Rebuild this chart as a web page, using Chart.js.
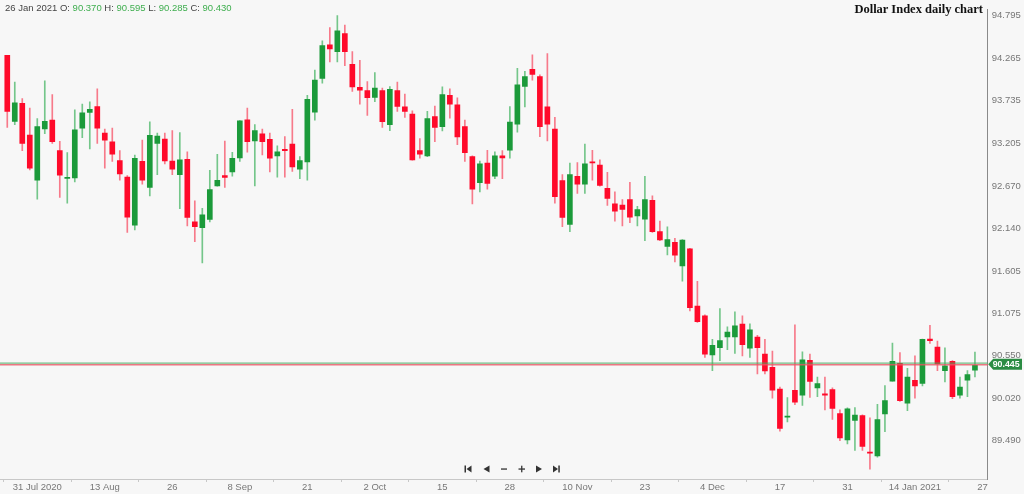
<!DOCTYPE html>
<html><head><meta charset="utf-8">
<script src="https://cdn.jsdelivr.net/npm/chart.js@4"></script>
<style>
html,body{margin:0;padding:0;background:#f7f7f7;}
#wrap{position:relative;width:1024px;height:494px;background:#f7f7f7;}
canvas{display:block;}
#hdr{position:absolute;left:5px;top:2px;font:9.5px "Liberation Sans",Arial,sans-serif;color:#444;white-space:nowrap;}
#hdr .v{color:#3fae4f;}
#ttl{position:absolute;right:41px;top:2px;font:bold 12.5px "Liberation Serif","Times New Roman",serif;color:#111;white-space:nowrap;}
</style></head>
<body><div id="wrap"><canvas id="c" width="1024" height="494"></canvas>
<div id="hdr"></div>
<div id="ttl">Dollar Index daily chart</div></div>
<script>
// trading days (last one has no candle yet)
const dates = [
"2020-07-27","2020-07-28","2020-07-29","2020-07-30","2020-07-31",
"2020-08-03","2020-08-04","2020-08-05","2020-08-06","2020-08-07","2020-08-10","2020-08-11","2020-08-12","2020-08-13","2020-08-14",
"2020-08-17","2020-08-18","2020-08-19","2020-08-20","2020-08-21","2020-08-24","2020-08-25","2020-08-26","2020-08-27","2020-08-28","2020-08-31",
"2020-09-01","2020-09-02","2020-09-03","2020-09-04","2020-09-07","2020-09-08","2020-09-09","2020-09-10","2020-09-11","2020-09-14","2020-09-15",
"2020-09-16","2020-09-17","2020-09-18","2020-09-21","2020-09-22","2020-09-23","2020-09-24","2020-09-25","2020-09-28","2020-09-29","2020-09-30",
"2020-10-01","2020-10-02","2020-10-05","2020-10-06","2020-10-07","2020-10-08","2020-10-09","2020-10-12","2020-10-13","2020-10-14","2020-10-15",
"2020-10-16","2020-10-19","2020-10-20","2020-10-21","2020-10-22","2020-10-23","2020-10-26","2020-10-27","2020-10-28","2020-10-29","2020-10-30",
"2020-11-02","2020-11-03","2020-11-04","2020-11-05","2020-11-06","2020-11-09","2020-11-10","2020-11-11","2020-11-12","2020-11-13","2020-11-16",
"2020-11-17","2020-11-18","2020-11-19","2020-11-20","2020-11-23","2020-11-24","2020-11-25","2020-11-26","2020-11-27","2020-11-30",
"2020-12-01","2020-12-02","2020-12-03","2020-12-04","2020-12-07","2020-12-08","2020-12-09","2020-12-10","2020-12-11","2020-12-14","2020-12-15",
"2020-12-16","2020-12-17","2020-12-18","2020-12-21","2020-12-22","2020-12-23","2020-12-24","2020-12-28","2020-12-29","2020-12-30","2020-12-31",
"2021-01-04","2021-01-05","2021-01-06","2021-01-07","2021-01-08","2021-01-11","2021-01-12","2021-01-13","2021-01-14","2021-01-15",
"2021-01-18","2021-01-19","2021-01-20","2021-01-21","2021-01-22","2021-01-25","2021-01-26","2021-01-27"
];
const openV = [94.30,93.475,93.70,93.305,92.74,93.38,93.49,93.11,92.762,92.77,
93.39,93.585,93.66,93.33,93.22,92.985,92.78,92.18,92.975,92.65,
93.20,93.255,92.98,92.81,93.00,92.22,92.15,92.25,92.67,92.80,
92.845,93.02,93.495,93.23,93.32,93.25,93.045,93.125,93.19,92.88,
92.97,93.59,94.01,94.43,94.345,94.57,94.185,93.90,93.86,93.775,
93.86,93.435,93.86,93.655,93.565,93.11,93.045,93.535,93.41,93.80,
93.68,93.41,93.035,92.71,92.955,92.79,93.045,93.115,93.44,93.91,
94.125,94.035,93.655,93.38,92.735,92.19,92.79,92.69,92.97,92.93,
92.64,92.445,92.43,92.50,92.295,92.255,92.49,92.10,91.915,91.965,
91.67,91.885,91.17,91.05,90.56,90.65,90.785,90.785,90.945,90.645,
90.785,90.57,90.405,90.135,89.785,90.12,90.06,90.495,90.15,90.075,
90.13,89.83,89.50,89.745,89.805,89.345,89.30,89.825,90.235,90.455,
89.96,90.245,90.205,90.76,90.66,90.365,90.48,90.06,90.245,90.370];
const highV = [94.30,93.965,93.76,93.64,93.51,93.98,93.81,93.225,93.085,93.62,
93.69,93.72,93.88,93.38,93.39,93.11,92.80,93.055,93.24,93.47,
93.33,93.33,93.36,93.335,93.095,92.485,92.39,92.865,93.065,93.23,
93.09,93.485,93.64,93.435,93.38,93.33,93.17,93.285,93.625,93.035,
93.80,94.115,94.48,94.645,94.795,94.675,94.345,94.235,93.97,94.085,
93.89,93.91,93.965,93.815,93.605,93.26,93.60,93.665,93.905,93.88,
93.77,93.49,93.045,92.98,93.115,93.095,93.11,93.66,94.135,94.10,
94.305,94.055,94.32,93.525,92.81,92.955,92.96,93.19,93.115,92.995,
92.84,92.595,92.50,92.715,92.415,92.79,92.545,92.23,92.16,92.015,
92.00,91.89,91.48,91.06,90.755,91.14,90.91,91.10,91.05,90.95,
90.805,90.755,90.61,90.16,90.03,90.935,90.60,90.57,90.285,90.285,
90.15,89.875,89.90,89.905,89.815,89.775,89.945,90.18,90.71,90.59,
90.395,90.55,90.76,90.93,90.735,90.65,90.49,90.285,90.365,90.595];
const lowV = [93.40,93.435,93.11,92.87,92.505,93.32,93.20,92.525,92.455,92.72,
93.27,93.13,93.20,92.89,92.975,92.74,92.09,92.12,92.69,92.545,
92.81,92.945,92.81,92.385,92.17,91.975,91.71,92.22,92.665,92.65,
92.79,92.975,93.09,92.67,93.055,92.845,92.78,92.78,92.85,92.76,
92.74,93.49,93.95,94.215,94.215,94.17,93.85,93.69,93.55,93.72,
93.40,93.36,93.60,93.525,92.99,93.015,93.035,93.22,93.355,93.515,
93.185,92.975,92.445,92.595,92.63,92.76,92.76,93.015,93.34,93.655,
93.99,93.285,93.23,92.455,92.16,92.10,92.575,92.575,92.74,92.665,
92.425,92.23,92.17,92.21,92.17,91.985,92.09,91.985,91.81,91.72,
91.48,91.11,90.965,90.53,90.365,90.49,90.625,90.58,90.55,90.53,
90.325,90.325,90.02,89.61,89.725,89.94,89.93,90.03,90.04,89.875,
89.755,89.49,89.45,89.37,89.37,89.135,89.285,89.605,90.235,89.98,
89.865,90.02,90.175,90.705,90.365,90.225,90.015,90.02,90.04,90.285];
const closeV = [93.60,93.705,93.20,92.89,93.41,93.475,93.22,92.805,92.778,93.37,
93.58,93.625,93.39,93.24,93.065,92.82,92.28,93.015,92.74,93.30,
93.29,92.98,92.88,92.995,92.275,92.16,92.31,92.625,92.74,92.775,
93.015,93.48,93.22,93.36,93.22,93.015,93.095,93.11,92.905,92.985,
93.75,93.99,94.42,94.38,94.605,94.345,93.905,93.865,93.77,93.89,
93.47,93.875,93.66,93.60,92.995,93.065,93.51,93.40,93.81,93.69,
93.28,93.085,92.63,92.945,92.70,93.045,93.02,93.465,93.93,94.035,
94.06,93.41,93.44,92.535,92.275,92.81,92.69,92.945,92.955,92.675,
92.515,92.355,92.375,92.28,92.375,92.50,92.10,91.995,92.00,91.805,
91.995,91.15,90.975,90.57,90.68,90.74,90.845,90.925,90.69,90.875,
90.65,90.36,90.12,89.645,89.795,89.97,90.50,90.23,90.205,90.06,
89.895,89.525,89.89,89.81,89.42,89.335,89.755,89.99,90.48,89.99,
90.285,90.175,90.755,90.74,90.45,90.425,90.04,90.16,90.315,90.430];
const currentPrice = 90.445;
const yTickValues = [94.795,94.265,93.735,93.205,92.670,92.140,91.605,91.075,90.550,90.020,89.490];
const xTickDates = ["2020-07-31","2020-08-13","2020-08-26","2020-09-08","2020-09-21","2020-10-02","2020-10-15","2020-10-28","2020-11-10","2020-11-23","2020-12-04","2020-12-17","2020-12-31","2021-01-14","2021-01-27"];
const xTickLabels = ["31 Jul 2020","13 Aug","26","8 Sep","21","2 Oct","15","28","10 Nov","23","4 Dec","17","31","14 Jan 2021","27"];
const headerLabel = "26 Jan 2021";

const UP = '#1b9a3a', DN = '#ff0a2a', WUP = '#74c68a', WDN = '#f77a8a';
const n = openV.length;
const isUp = openV.map((o,i)=> closeV[i] >= o);
const wickData = openV.map((o,i)=>({x:i, y:[lowV[i], highV[i]]}));
const bodyData = openV.map((o,i)=>({x:i, y:[o, closeV[i]]}));
const tickIdx = xTickDates.map(d=>dates.indexOf(d));
const labelAt = {}; tickIdx.forEach((t,k)=>{labelAt[t]=xTickLabels[k];});

const last = n-1;
document.getElementById('hdr').innerHTML = headerLabel + ' O: <span class="v">'+openV[last].toFixed(3)+'</span> H: <span class="v">'+highV[last].toFixed(3)+'</span> L: <span class="v">'+lowV[last].toFixed(3)+'</span> C: <span class="v">'+closeV[last].toFixed(3)+'</span>';

const pricePlugin = {
  id:'price',
  afterDatasetsDraw(chart){
    const {ctx, chartArea:a, scales:{y}} = chart;
    const py = y.getPixelForValue(currentPrice);
    ctx.save();
    ctx.lineWidth = 1.2; ctx.strokeStyle = 'rgba(70,170,95,0.75)';
    ctx.beginPath(); ctx.moveTo(a.left, py-1); ctx.lineTo(a.right, py-1); ctx.stroke();
    ctx.lineWidth = 1.6; ctx.strokeStyle = 'rgba(232,85,100,0.8)';
    ctx.beginPath(); ctx.moveTo(a.left, py+0.6); ctx.lineTo(a.right, py+0.6); ctx.stroke();
    ctx.restore();
  },
  afterDraw(chart){
    const {ctx, chartArea:a, scales:{y}} = chart;
    const py = y.getPixelForValue(currentPrice);
    ctx.save();
    const x0 = a.right + 0.5;
    ctx.fillStyle = '#2b8c43';
    ctx.beginPath();
    ctx.moveTo(x0, py); ctx.lineTo(x0+5, py-5.5); ctx.lineTo(1022, py-5.5);
    ctx.lineTo(1022, py+5.5); ctx.lineTo(x0+5, py+5.5); ctx.closePath(); ctx.fill();
    ctx.fillStyle = '#ffffff';
    ctx.font = 'bold 8.8px "Liberation Sans", Arial, sans-serif';
    ctx.textBaseline = 'middle'; ctx.textAlign = 'left';
    ctx.fillText(currentPrice.toFixed(3), x0+4.5, py+0.5);
    // navigation icons
    const cy = 469; ctx.fillStyle = '#333';
    const tri = (tx, bx) => { ctx.beginPath(); ctx.moveTo(tx, cy); ctx.lineTo(bx, cy-3.5); ctx.lineTo(bx, cy+3.5); ctx.closePath(); ctx.fill(); };
    ctx.fillRect(464.5, cy-3.5, 1.5, 7); tri(466.5, 471.5);
    tri(483.5, 489.5);
    ctx.fillRect(501, cy-0.6, 6, 1.3);
    ctx.fillRect(518.5, cy-0.6, 6.5, 1.3); ctx.fillRect(521.1, cy-3.3, 1.3, 6.6);
    tri(542, 536);
    tri(558, 553); ctx.fillRect(558.3, cy-3.5, 1.5, 7);
    ctx.restore();
  }
};

new Chart(document.getElementById('c').getContext('2d'), {
  type:'bar',
  data:{datasets:[
    {data:wickData, backgroundColor:isUp.map(u=>u?WUP:WDN), barThickness:1, grouped:false, order:2},
    {data:bodyData, backgroundColor:isUp.map(u=>u?UP:DN), barThickness:5, grouped:false, minBarLength:1, order:1}
  ]},
  options:{
    responsive:false, animation:false, devicePixelRatio:1,
    layout:{padding:0},
    plugins:{legend:{display:false}, tooltip:{enabled:false}, title:{display:false}},
    scales:{
      x:{type:'linear', min:-0.97, max:130.7, offset:false,
         grid:{display:true, drawOnChartArea:false, tickLength:3, color:'#c8c8c8'},
         border:{color:'#c8c8c8'},
         ticks:{autoSkip:false, maxRotation:0, padding:0, color:'#777',
                font:{size:9.5, family:'"Liberation Sans", Arial, sans-serif'},
                callback:(v)=> labelAt[v] !== undefined ? labelAt[v] : ''},
         afterBuildTicks:(s)=>{ s.ticks = tickIdx.map(v=>({value:v})); },
         afterFit:(s)=>{ s.height = 15; }},
      y:{position:'right', min:89.013, max:94.868,
         grid:{display:true, drawOnChartArea:false, tickLength:0},
         border:{color:'#8a8a8a'},
         ticks:{padding:4, color:'#777',
                font:{size:9.5, family:'"Liberation Sans", Arial, sans-serif'},
                callback:(v)=> Number(v).toFixed(3)},
         afterBuildTicks:(s)=>{ s.ticks = yTickValues.map(v=>({value:v})); },
         afterFit:(s)=>{ s.width = 36.3; }}
    }
  },
  plugins:[pricePlugin]
});
</script>
</body></html>
